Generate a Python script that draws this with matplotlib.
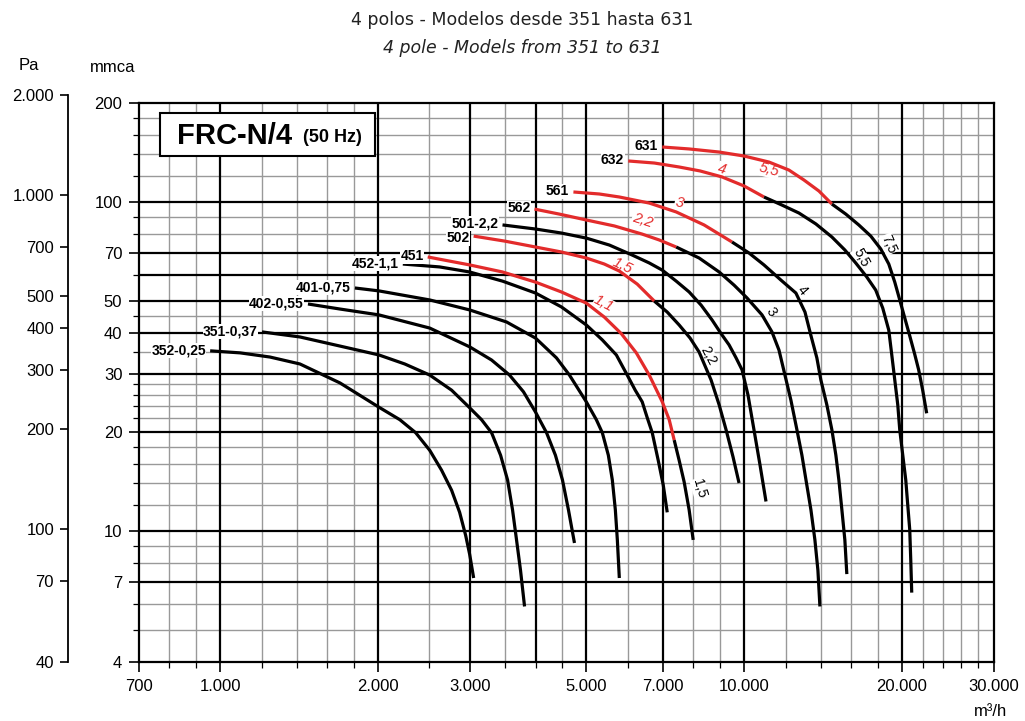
import matplotlib
matplotlib.use('Agg')
import matplotlib.pyplot as plt
from matplotlib.patches import Rectangle
from matplotlib.ticker import FixedLocator, NullFormatter, NullLocator

# fan curves, flow in m3/h, pressure in mmca
models = ['352-0,25', '351-0,37', '402-0,55', '401-0,75', '452-1,1', '451',
          '502', '501-2,2', '562', '561', '632', '631']

q_352 = [957, 1092, 1245, 1420, 1693, 2009, 2203, 2362, 2512, 2647, 2766, 2865, 2942, 2994, 3047]
p_352 = [35.3, 34.8, 33.8, 32.2, 28.2, 23.8, 21.8, 19.9, 17.6, 15.3, 13.3, 11.4, 9.7, 8.5, 7.2]
q_351 = [1202, 1420, 1693, 2009, 2251, 2512, 2766, 2994, 3155, 3297, 3430, 3537, 3615, 3679, 3744, 3811]
p_351 = [40.3, 38.9, 36.5, 34.3, 32.2, 29.8, 26.8, 23.7, 21.8, 19.9, 17.0, 14.3, 11.6, 9.4, 7.6, 5.9]
q_402 = [1471, 1693, 2009, 2512, 2994, 3297, 3567, 3793, 3999, 4198, 4365, 4502, 4622, 4746]
p_402 = [49.0, 47.3, 45.4, 41.4, 36.3, 33.1, 29.8, 26.5, 23.0, 19.9, 17.0, 14.3, 11.6, 9.2]
q_401 = [1808, 2009, 2512, 2994, 3521, 3999, 4385, 4642, 5000, 5225, 5364, 5508, 5605, 5680, 5730, 5780]
p_401 = [54.8, 53.7, 50.4, 47.0, 43.2, 38.6, 33.6, 29.8, 24.7, 21.8, 19.9, 17.0, 14.3, 11.6, 9.4, 7.2]
q_452 = [2232, 2624, 2994, 3459, 3999, 4481, 5000, 5364, 5705, 5984, 6199, 6392, 6535, 6680, 6858, 7011, 7135]
p_452 = [64.8, 63.5, 61.3, 57.5, 52.9, 48.0, 42.3, 38.1, 34.3, 29.8, 26.8, 24.7, 22.1, 19.9, 16.4, 13.8, 11.4]
q_451 = [2490, 2994, 3459, 3999, 4481, 5000, 5412, 5832, 6228, 6592, 6981, 7197, 7357, 7519, 7686, 7856, 7997]
p_451 = [68.1, 64.4, 61.3, 57.1, 53.3, 49.3, 44.7, 39.8, 34.8, 29.8, 24.7, 21.8, 18.9, 16.4, 14.1, 11.6, 9.4]
q_502 = [3047, 3490, 3999, 4481, 5000, 5412, 5780, 6255, 6741, 7135, 7519, 7889, 8208, 8650, 8963, 9242, 9528, 9783]
p_502 = [78.8, 76.1, 73.0, 70.5, 67.6, 64.8, 61.7, 56.3, 50.0, 46.3, 42.3, 38.6, 35.0, 28.8, 24.2, 20.3, 16.8, 14.0]
q_501 = [3459, 3999, 4481, 5000, 5534, 6118, 6592, 6981, 7422, 7856, 8281, 8690, 9042, 9363, 9656, 9913,
         10176, 10447, 10726, 11013]
p_501 = [85.2, 82.8, 80.5, 77.7, 74.0, 69.0, 65.3, 62.1, 57.5, 53.3, 48.6, 43.8, 39.8, 36.8, 33.6, 30.9,
         25.9, 20.3, 15.9, 12.3]
q_562 = [3981, 4442, 5000, 5654, 6392, 6887, 7422, 8208, 8963, 9572, 10132, 10822, 11306, 11659, 11969,
         12287, 12618, 12897, 13129, 13417, 13654, 13836, 13958]
p_562 = [95.2, 91.9, 88.2, 84.6, 79.9, 76.7, 73.0, 67.6, 61.3, 55.9, 51.1, 45.4, 40.3, 35.5, 29.8,
         25.0, 20.3, 17.0, 14.3, 11.6, 9.4, 7.6, 5.9]
q_561 = [4724, 5293, 5780, 6592, 7422, 8389, 9486, 10221, 10916, 11763, 12560, 13072, 13417, 13772, 14016,
         14389, 14713, 14973, 15171, 15373, 15575, 15711]
p_561 = [107.3, 105.8, 103.6, 99.3, 93.3, 85.2, 75.6, 70.0, 64.4, 57.9, 52.9, 46.3, 39.3, 33.6, 28.8,
         24.2, 20.3, 17.0, 14.3, 11.6, 9.4, 7.4]
q_632 = [6012, 6741, 7519, 8245, 9081, 10000, 10916, 11815, 12730, 13712, 14713, 15575, 16337, 17149, 17839,
         18398, 18892, 19143, 19396, 19653, 19826, 20091, 20356, 20535, 20715, 20806, 20897]
p_632 = [133.3, 131.4, 127.8, 124.3, 119.2, 111.9, 103.6, 97.9, 92.6, 85.8, 78.3, 71.5, 65.3, 59.2, 54.0,
         47.6, 40.8, 34.3, 28.8, 24.2, 20.3, 17.0, 14.3, 12.0, 10.1, 8.2, 6.5]
q_631 = [6981, 7856, 8963, 10000, 11158, 12180, 13010, 13900, 14713, 15643, 16558, 17456, 18238, 18892,
         19396, 19826, 20270, 20715, 21170, 21544, 21928, 22316]
p_631 = [147.0, 145.0, 141.9, 138.0, 132.3, 125.1, 116.7, 108.0, 98.6, 91.9, 85.2, 78.8, 72.0, 64.8,
         57.1, 50.4, 44.4, 39.2, 34.5, 30.9, 26.8, 22.8]

# index of the last point of the red (smaller motor) part, 0 = all black
red_until = [0, 0, 0, 0, 0, 12, 8, 0, 6, 6, 6, 8]

# motor power labels along the curves
motor_text = ['1,1', '1,5', '2,2', '3', '4', '5,5', '1,5', '2,2', '3', '4', '5,5', '7,5']
motor_q = [5400, 5850, 6392, 7520, 9081, 11158, 8210, 8540, 11258, 12898, 16706, 18892]
motor_p = [49.0, 64.0, 88.0, 99.5, 126.0, 125.0, 13.5, 34.0, 46.3, 54.0, 67.6, 74.5]
motor_red = [True] * 6 + [False] * 6
motor_rot = [-28, -25, -18, -12, -15, -15, -74, -62, -55, -50, -62, -66]
# small vertical nudge of the model names (points)
name_dy = [0.5, 0.5, 0.5, 0.5, 0.5, 0.5, -1.5, 1.0, 0.5, 0.5, 0.5, 0.5]

x_ticks = [700, 1000, 2000, 3000, 5000, 7000, 10000, 20000, 30000]
x_ticklabels = ['700', '1.000', '2.000', '3.000', '5.000', '7.000', '10.000', '20.000', '30.000']
y_ticks = [4, 7, 10, 20, 30, 40, 50, 70, 100, 200]
pa_ticks = [40, 70, 100, 200, 300, 400, 500, 700, 1000, 2000]
pa_ticklabels = ['40', '70', '100', '200', '300', '400', '500', '700', '1.000', '2.000']

grid_x_thick = [1000, 2000, 3000, 4000, 5000, 7000, 10000, 20000]
grid_x_thin = [800, 900, 1200, 1400, 1600, 1800, 2500, 3500, 4500, 6000, 8000, 9000,
               12000, 14000, 16000, 18000, 22000, 24000, 26000, 28000]
grid_y_thick = [7, 10, 20, 30, 40, 50, 60, 70, 100]
grid_y_thin = [5, 6, 8, 9, 12, 14, 16, 18, 22, 24, 26, 28, 35, 45, 80, 90, 120, 140, 160, 180]

curves_q = [q_352, q_351, q_402, q_401, q_452, q_451, q_502, q_501, q_562, q_561, q_632, q_631]
curves_p = [p_352, p_351, p_402, p_401, p_452, p_451, p_502, p_501, p_562, p_561, p_632, p_631]

RED = '#e32b2b'
W, H = 1025, 721
plt.rcParams['font.family'] = ['Liberation Sans', 'DejaVu Sans']

fig = plt.figure(figsize=(W / 100, H / 100), dpi=100)

def fx(px):
    return px / W

def fy(py):
    return 1 - py / H

ax = fig.add_axes([fx(139), fy(662), (994 - 139) / W, (662 - 103) / H])
ax.set_xscale('log')
ax.set_yscale('log')
ax.set_xlim(700, 30000)
ax.set_ylim(4, 200)

for v in grid_x_thin:
    ax.axvline(v, color='#999999', lw=1.0, zorder=1)
for v in grid_y_thin:
    ax.axhline(v, color='#999999', lw=1.0, zorder=1)
for v in grid_x_thick:
    ax.axvline(v, color='black', lw=1.6, zorder=1.5)
for v in grid_y_thick:
    ax.axhline(v, color='black', lw=1.6, zorder=1.5)

for name, q, p, k, dy in zip(models, curves_q, curves_p, red_until, name_dy):
    if k > 0:
        ax.plot(q[:k + 1], p[:k + 1], color=RED, lw=2.3, solid_capstyle='butt',
                solid_joinstyle='round', zorder=3)
        ax.plot(q[k:], p[k:], color='black', lw=2.3, solid_capstyle='butt',
                solid_joinstyle='round', zorder=3)
    else:
        ax.plot(q, p, color='black', lw=2.3, solid_capstyle='butt',
                solid_joinstyle='round', zorder=3)
    ax.annotate(name, xy=(q[0], p[0]), xytext=(-3, dy), textcoords='offset points',
                ha='right', va='center', fontsize=10, fontweight='bold', zorder=4,
                bbox=dict(fc='white', ec='none', pad=0.3))

# motor labels sit under the curves but over the grid
for s, q, p, red, rot in zip(motor_text, motor_q, motor_p, motor_red, motor_rot):
    ax.text(q, p, s, rotation=rot, rotation_mode='anchor', ha='center', va='center',
            fontsize=10.5 if red else 10, color=RED if red else 'black',
            style='italic' if red else 'normal', zorder=2,
            bbox=dict(fc='white', ec='none', pad=0.3))

for sp in ax.spines.values():
    sp.set_linewidth(1.6)
    sp.set_zorder(5)

ax.xaxis.set_major_locator(FixedLocator(x_ticks))
ax.xaxis.set_minor_locator(FixedLocator(grid_x_thick + grid_x_thin))
ax.set_xticklabels(x_ticklabels)
ax.xaxis.set_minor_formatter(NullFormatter())
ax.yaxis.set_major_locator(FixedLocator(y_ticks))
ax.yaxis.set_minor_locator(FixedLocator([60] + grid_y_thin))
ax.set_yticklabels([str(v) for v in y_ticks])
ax.yaxis.set_minor_formatter(NullFormatter())
ax.tick_params(which='major', direction='out', length=7, width=1.2, labelsize=12, pad=5)
ax.tick_params(which='minor', direction='out', length=4, width=0.9)

# Pa scale on the far left
pa = fig.add_axes([fx(68), fy(662), 0.0001, (662 - 95) / H])
pa.set_yscale('log')
pa.set_ylim(40, 2000)
pa.patch.set_visible(False)
for side in ['right', 'top', 'bottom']:
    pa.spines[side].set_visible(False)
pa.spines['left'].set_linewidth(1.3)
pa.set_xticks([])
pa.yaxis.set_major_locator(FixedLocator(pa_ticks))
pa.set_yticklabels(pa_ticklabels)
pa.yaxis.set_minor_locator(NullLocator())
pa.tick_params(direction='out', length=6, width=1.2, labelsize=12, pad=4)

# model box
ax.add_patch(Rectangle((fx(160), fy(156)), (375 - 160) / W, (156 - 113) / H,
                       transform=fig.transFigure, fc='white', ec='black', lw=1.5, zorder=6))
fig.text(fx(177), fy(136), 'FRC-N/4', fontsize=21, fontweight='bold', va='center', zorder=7)
fig.text(fx(303), fy(138), '(50 Hz)', fontsize=13, fontweight='bold', va='center', zorder=7)

fig.text(fx(522), fy(20), '4 polos - Modelos desde 351 hasta 631', ha='center', va='center',
         fontsize=12.5, family='DejaVu Sans', color='#222222')
fig.text(fx(522), fy(48), '4 pole - Models from 351 to 631', ha='center', va='center',
         fontsize=12.5, family='DejaVu Sans', style='italic', color='#222222')
fig.text(fx(29), fy(65), 'Pa', ha='center', va='center', fontsize=12)
fig.text(fx(113), fy(68), 'mmca', ha='center', va='center', fontsize=12)
fig.text(fx(1007), fy(711), 'm³/h', ha='right', va='center', fontsize=12)

fig.savefig('out.png', dpi=100)
